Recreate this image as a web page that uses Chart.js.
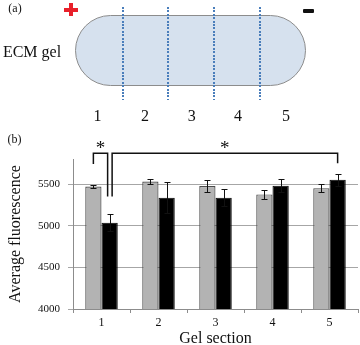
<!DOCTYPE html>
<html>
<head>
<meta charset="utf-8">
<script src="https://cdn.jsdelivr.net/npm/chart.js@4.4.1/dist/chart.umd.min.js"></script>
<style>
  html, body { margin: 0; padding: 0; background: #fff; }
  #wrap { position: relative; width: 360px; height: 345px; overflow: hidden; font-family: "Liberation Serif", "Times New Roman", serif; color: #111; }
  #chart { position: absolute; left: 0; top: 0; }
  .lbl { position: absolute; white-space: nowrap; line-height: 1; transform: translate(-50%, -50%); }
  .gel { position: absolute; left: 75px; top: 15px; width: 231px; height: 71px; box-sizing: border-box; border: 1.5px solid #8c8c8c; border-radius: 36px; background: #d6e1ee; }
  .cut { position: absolute; top: 7px; width: 2px; height: 93px; background: repeating-linear-gradient(to bottom, #4a7ebb 0 2px, transparent 2px 3.4px); }
  .plus-h { position: absolute; left: 64px; top: 8px; width: 14px; height: 3.5px; background: #e8202a; }
  .plus-v { position: absolute; left: 69.2px; top: 3.3px; width: 3.6px; height: 12.4px; background: #e8202a; }
  .minus { position: absolute; left: 303px; top: 9px; width: 11px; height: 3.5px; background: #111; border-radius: 1px; }
</style>
</head>
<body>
<div id="wrap">
  <canvas id="chart" width="360" height="345"></canvas>

  <!-- panel (a): gel diagram -->
  <div class="lbl" style="left:15px; top:8px; font-size:12px;">(a)</div>
  <div class="plus-h"></div>
  <div class="plus-v"></div>
  <div class="minus"></div>
  <div class="gel"></div>
  <div class="cut" style="left:122.3px;"></div>
  <div class="cut" style="left:167.3px;"></div>
  <div class="cut" style="left:213.3px;"></div>
  <div class="cut" style="left:259px;"></div>
  <div class="lbl" style="left:32px; top:52px; font-size:16px;">ECM gel</div>
  <div class="lbl" style="left:97.5px; top:116px; font-size:16px;">1</div>
  <div class="lbl" style="left:145px; top:116px; font-size:16px;">2</div>
  <div class="lbl" style="left:191.7px; top:116px; font-size:16px;">3</div>
  <div class="lbl" style="left:238px; top:116px; font-size:16px;">4</div>
  <div class="lbl" style="left:286px; top:116px; font-size:16px;">5</div>

  <!-- panel (b) label -->
  <div class="lbl" style="left:14.5px; top:138.5px; font-size:12px;">(b)</div>
</div>

<script>
// Data
const sections = ['1', '2', '3', '4', '5'];
const greyMeans = [5470, 5530, 5475, 5375, 5450];
const greyErr = [20, 25, 75, 50, 45];
const blackMeans = [5035, 5335, 5335, 5480, 5550];
const blackErr = [100, 185, 100, 80, 75];
const yTicks = [4000, 4500, 5000, 5500];
const yMin = 4000;
const yMax = 5800;

// significance brackets: [dataset, index] of each leg, values in axis units
const sigBrackets = [
    { left: [0, 0], right: [1, 0], top: 5870, leftEnd: 5740, rightEnd: 5350 },
    { left: [1, 0], right: [1, 4], top: 5870, leftEnd: 5350, rightEnd: 5750 }
];
const sigLabel = '*';

const serif = '"Liberation Serif", "Times New Roman", serif';
const legNudge = [[0, -2], [2.5, 0]]; // keep the two legs on bar 1 apart

// --- Error bars plugin ---
const errorBars = {
    id: 'errorBars',
    afterDatasetsDraw(chart) {
        const ctx = chart.ctx;
        const y = chart.scales.y;
        ctx.save();
        ctx.strokeStyle = '#111';
        ctx.lineWidth = 1;
        chart.data.datasets.forEach((ds, d) => {
            chart.getDatasetMeta(d).data.forEach((bar, i) => {
                const v = ds.data[i];
                const e = ds.errors[i];
                const top = Math.round(y.getPixelForValue(v + e)) + 0.5;
                const bot = Math.round(y.getPixelForValue(v - e)) + 0.5;
                const x = Math.round(bar.x) + 0.5;
                ctx.beginPath();
                ctx.moveTo(x, top); ctx.lineTo(x, bot);
                ctx.moveTo(x - 3, top); ctx.lineTo(x + 3, top);
                ctx.moveTo(x - 3, bot); ctx.lineTo(x + 3, bot);
                ctx.stroke();
            });
        });
        ctx.restore();
    }
};

// --- Significance brackets plugin ---
const brackets = {
    id: 'brackets',
    afterDraw(chart) {
        const ctx = chart.ctx;
        const y = chart.scales.y;
        ctx.save();
        ctx.strokeStyle = '#111';
        ctx.fillStyle = '#111';
        ctx.lineWidth = 1.5;
        ctx.font = '19px ' + serif;
        ctx.textAlign = 'center';
        ctx.textBaseline = 'alphabetic';
        sigBrackets.forEach((b, k) => {
            const xl = chart.getDatasetMeta(b.left[0]).data[b.left[1]].x + legNudge[k][0];
            const xr = chart.getDatasetMeta(b.right[0]).data[b.right[1]].x + legNudge[k][1];
            const yt = y.getPixelForValue(b.top);
            ctx.beginPath();
            ctx.moveTo(xl, y.getPixelForValue(b.leftEnd));
            ctx.lineTo(xl, yt);
            ctx.lineTo(xr, yt);
            ctx.lineTo(xr, y.getPixelForValue(b.rightEnd));
            ctx.stroke();
            ctx.fillText(sigLabel, (xl + xr) / 2, yt + 1);
        });
        ctx.restore();
    }
};

new Chart(document.getElementById('chart'), {
    type: 'bar',
    data: {
        labels: sections,
        datasets: [
            {
                data: greyMeans,
                errors: greyErr,
                backgroundColor: '#b3b3b3',
                borderColor: '#4a4a4a',
                borderWidth: 1.2,
                categoryPercentage: 0.57,
                barPercentage: 1
            },
            {
                data: blackMeans,
                errors: blackErr,
                backgroundColor: '#000',
                borderColor: '#000',
                borderWidth: 1,
                categoryPercentage: 0.57,
                barPercentage: 1
            }
        ]
    },
    options: {
        responsive: false,
        animation: false,
        devicePixelRatio: 1,
        layout: { padding: { top: 159, right: 2, left: 0, bottom: 0 } },
        plugins: {
            legend: { display: false },
            tooltip: { enabled: false }
        },
        scales: {
            x: {
                offset: true,
                grid: { display: true, drawOnChartArea: false, offset: true, tickLength: 4, color: '#8c8c8c' },
                border: { color: '#8c8c8c' },
                ticks: { font: { family: serif, size: 12 }, color: '#111', padding: 3 },
                title: {
                    display: true,
                    text: 'Gel section',
                    font: { family: serif, size: 16, lineHeight: 1 },
                    color: '#111',
                    padding: { top: 0, bottom: -2 }
                },
                afterFit(scale) { scale.height = 36; }
            },
            y: {
                min: yMin,
                max: yMax,
                afterBuildTicks(axis) {
                    axis.ticks = yTicks.map(v => ({ value: v }));
                },
                grid: { color: '#a6a6a6', tickLength: 5 },
                border: { color: '#8c8c8c' },
                ticks: {
                    font: { family: serif, size: 11 },
                    color: '#111',
                    padding: 8,
                    callback: v => String(v)
                },
                title: {
                    display: true,
                    text: 'Average fluorescence',
                    font: { family: serif, size: 16 },
                    color: '#111',
                    padding: { top: 6, bottom: 0 }
                },
                afterFit(scale) { scale.width = 73; }
            }
        }
    },
    plugins: [errorBars, brackets]
});
</script>
</body>
</html>
